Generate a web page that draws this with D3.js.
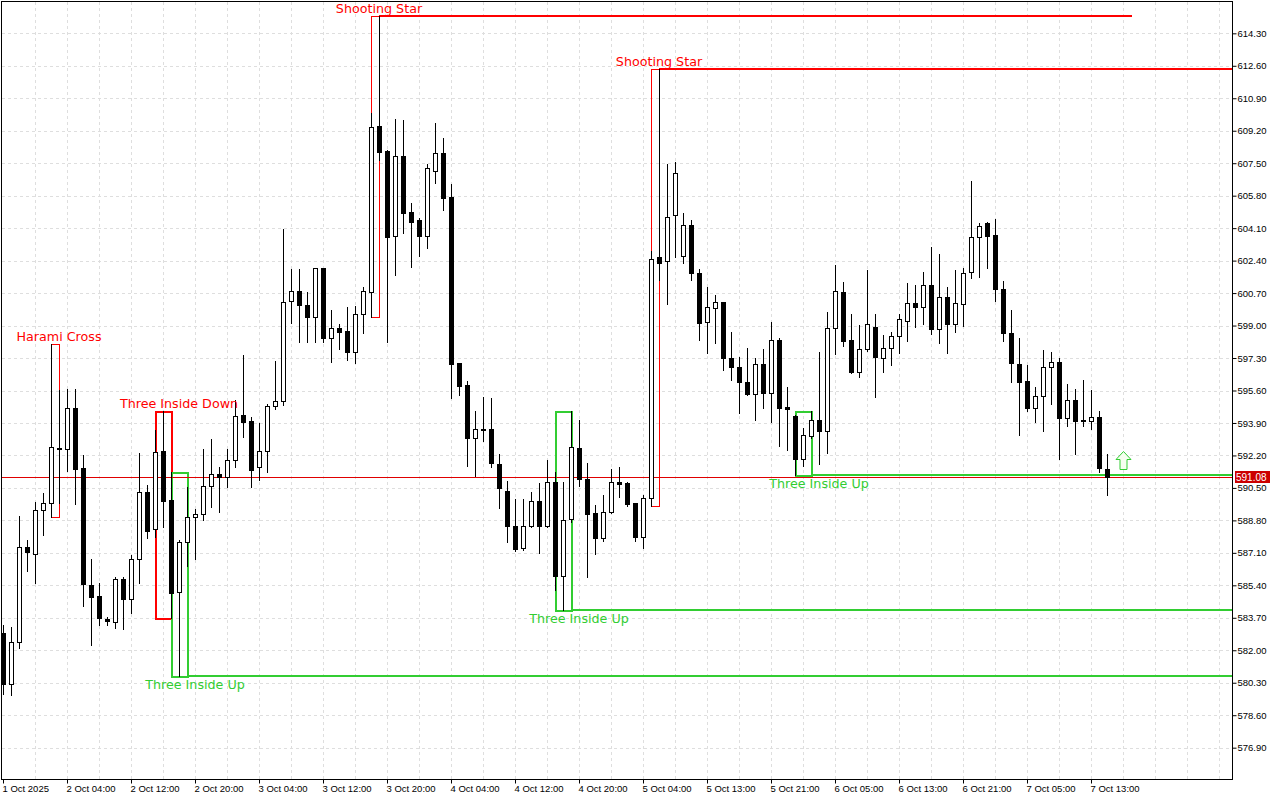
<!DOCTYPE html>
<html>
<head>
<meta charset="utf-8">
<script src="https://cdn.jsdelivr.net/npm/d3@7/dist/d3.min.js"></script>
<style>
  body { margin: 0; background: #fff; }
  svg { display: block; }
  .axis text { font-family: "Liberation Sans", Arial, sans-serif; font-size: 9.5px; fill: #000; }
  .axis line, .axis path { stroke: #000; }
  .pattern-label { font-family: "DejaVu Sans", Verdana, sans-serif; font-size: 12.7px; }
</style>
</head>
<body>
<svg id="chart" width="1280" height="800"></svg>
<script>
// hourly candles
const open = [582.90, 580.23, 582.43, 587.40, 587.03, 589.34, 589.70, 592.58, 592.53, 594.68,
  591.54, 585.41, 584.83, 583.63, 583.47, 585.72, 584.68, 586.77, 590.28, 588.34,
  592.43, 589.86, 585.04, 587.66, 588.97, 589.13, 590.59, 591.22, 591.06, 591.95,
  594.31, 594.00, 591.59, 592.43, 594.78, 595.04, 600.28, 600.80, 600.07, 599.44,
  602.01, 598.34, 598.87, 598.71, 597.61, 599.60, 600.75, 609.44, 608.13, 603.68,
  607.87, 604.94, 604.52, 603.68, 607.09, 608.03, 605.73, 597.03, 595.88, 593.11,
  593.58, 593.58, 591.74, 590.33, 588.50, 587.35, 588.50, 589.81, 588.50, 590.80,
  585.88, 588.87, 592.58, 590.96, 589.18, 587.87, 589.23, 590.80, 590.75, 589.70,
  587.92, 589.96, 602.58, 602.37, 604.78, 602.64, 604.26, 601.75, 599.18, 599.91,
  600.23, 597.30, 596.82, 596.04, 595.41, 596.98, 595.46, 598.24, 594.73, 594.26,
  592.01, 593.21, 594.05, 593.47, 598.87, 600.75, 598.24, 596.56, 597.77, 598.92,
  597.30, 597.82, 598.45, 599.23, 600.17, 599.97, 601.12, 598.81, 600.49, 599.08,
  600.12, 601.80, 603.63, 604.36, 603.74, 600.91, 598.60, 596.98, 596.09, 594.68,
  595.31, 596.82, 597.09, 594.15, 595.10, 594.05, 594.00, 594.21, 591.48];

const high = [583.31, 583.21, 589.02, 587.77, 589.76, 590.23, 598.03, 595.62, 595.67, 595.67,
  592.22, 586.77, 585.51, 583.73, 585.83, 585.83, 586.98, 592.32, 590.65, 593.53,
  594.52, 591.33, 587.77, 590.54, 589.39, 592.53, 593.05, 591.59, 592.53, 595.10,
  597.45, 594.21, 593.89, 594.89, 597.14, 604.05, 601.96, 601.96, 600.75, 602.01,
  602.01, 599.81, 599.08, 599.97, 600.02, 601.01, 610.12, 615.20, 608.20, 609.81,
  609.76, 605.41, 604.63, 607.45, 609.60, 608.81, 606.41, 597.03, 596.09, 594.52,
  595.25, 595.20, 592.27, 590.85, 589.91, 589.91, 590.28, 590.75, 591.95, 591.33,
  590.80, 594.52, 594.05, 591.80, 589.60, 590.12, 591.48, 591.59, 590.80, 589.70,
  590.12, 602.90, 612.43, 607.45, 607.56, 604.89, 604.52, 601.96, 601.01, 600.59,
  600.23, 598.66, 597.35, 597.82, 597.30, 597.77, 599.18, 598.34, 595.78, 594.30,
  593.63, 594.52, 597.61, 599.70, 602.16, 601.27, 599.60, 599.02, 601.90, 599.60,
  598.50, 598.66, 599.60, 601.22, 601.12, 601.80, 603.11, 602.74, 601.01, 601.90,
  602.01, 606.56, 604.36, 604.42, 604.57, 601.33, 599.81, 598.34, 596.93, 595.78,
  597.71, 597.61, 597.30, 595.93, 595.67, 596.14, 595.62, 594.52, 592.27];

const low = [579.70, 579.65, 582.11, 586.14, 585.51, 588.03, 588.97, 589.70, 591.38, 589.65,
  584.31, 582.27, 583.31, 583.31, 583.16, 583.11, 583.94, 585.51, 587.87, 587.92,
  588.45, 583.68, 580.64, 586.40, 586.77, 588.81, 589.49, 589.23, 590.54, 591.59,
  593.16, 590.54, 590.91, 591.33, 594.62, 594.83, 599.13, 598.13, 598.13, 598.13,
  598.13, 597.09, 597.77, 597.19, 597.03, 598.60, 599.44, 607.66, 598.13, 601.64,
  603.84, 602.06, 602.64, 603.05, 606.46, 605.04, 595.20, 595.36, 591.64, 591.12,
  592.95, 591.59, 589.44, 587.66, 587.20, 587.24, 588.45, 587.09, 588.45, 585.15,
  584.10, 588.71, 590.59, 585.83, 587.03, 587.71, 589.18, 590.02, 589.55, 587.71,
  587.35, 589.55, 601.38, 600.12, 602.58, 602.27, 601.38, 598.24, 597.56, 598.08,
  596.67, 596.14, 594.42, 595.36, 594.05, 594.68, 593.94, 592.69, 592.48, 591.17,
  591.64, 593.11, 591.74, 592.32, 597.50, 597.92, 596.51, 596.30, 597.66, 595.25,
  596.56, 596.93, 597.56, 598.19, 598.92, 599.08, 598.55, 598.08, 597.56, 598.66,
  598.97, 601.48, 601.54, 602.01, 600.28, 598.19, 596.04, 593.26, 594.52, 593.94,
  593.47, 594.89, 592.01, 593.73, 592.27, 593.73, 593.58, 591.33, 590.12];

const close = [580.23, 582.43, 587.40, 587.14, 589.34, 589.70, 592.64, 592.53, 594.68, 591.48,
  585.46, 584.78, 583.68, 583.52, 585.72, 584.68, 586.77, 590.28, 588.24, 592.37,
  589.81, 584.99, 587.66, 588.97, 589.13, 590.59, 591.22, 591.06, 591.95, 594.26,
  593.94, 591.43, 592.43, 594.78, 595.04, 600.23, 600.80, 600.07, 599.44, 602.01,
  598.34, 598.87, 598.66, 597.61, 599.60, 600.80, 609.39, 608.08, 603.63, 607.87,
  604.89, 604.42, 603.68, 607.24, 608.03, 605.67, 596.98, 595.83, 593.11, 593.58,
  593.53, 591.80, 590.49, 588.50, 587.29, 588.50, 589.81, 588.50, 590.80, 585.88,
  588.81, 592.64, 590.96, 589.13, 587.87, 589.23, 590.80, 590.70, 589.65, 587.92,
  589.96, 602.48, 602.27, 604.68, 606.98, 604.26, 601.75, 599.13, 599.97, 600.23,
  597.30, 596.82, 596.04, 595.41, 596.98, 595.46, 598.24, 594.68, 594.62, 592.01,
  593.26, 594.05, 593.47, 598.87, 600.80, 598.19, 596.56, 597.77, 599.08, 597.35,
  597.82, 598.45, 599.34, 600.17, 599.97, 601.12, 598.81, 600.49, 599.08, 600.17,
  601.75, 603.63, 604.21, 603.68, 600.91, 598.60, 597.03, 596.04, 594.68, 595.31,
  596.82, 597.09, 594.15, 595.10, 594.00, 594.00, 594.21, 591.54, 591.08];

// time labels, one every 8 bars
const timeLabels = ["1 Oct 2025", "2 Oct 04:00", "2 Oct 12:00", "2 Oct 20:00", "3 Oct 04:00",
  "3 Oct 12:00", "3 Oct 20:00", "4 Oct 04:00", "4 Oct 12:00", "4 Oct 20:00", "5 Oct 04:00",
  "5 Oct 13:00", "5 Oct 21:00", "6 Oct 05:00", "6 Oct 13:00", "6 Oct 21:00", "7 Oct 05:00",
  "7 Oct 13:00"];

const priceTicks = [614.30, 612.60, 610.90, 609.20, 607.50, 605.80, 604.10, 602.40, 600.70,
  599.00, 597.30, 595.60, 593.90, 592.20, 590.50, 588.80, 587.10, 585.40, 583.70, 582.00,
  580.30, 578.60, 576.90];

// candlestick patterns found by the indicator
const patternNames = ["Harami Cross", "Three Inside Down", "Three Inside Up", "Shooting Star",
  "Three Inside Up", "Shooting Star", "Three Inside Up"];
const patternBull = [false, false, true, false, true, false, true];
const patternFrom = [6, 19, 21, 46, 69, 81, 99];
const patternTo = [7, 21, 23, 47, 71, 82, 101];
const patternTop = [598.03, 594.52, 591.33, 615.20, 594.52, 612.43, 594.52];
const patternBottom = [588.97, 583.68, 580.64, 599.44, 584.10, 589.55, 591.17];
const patternLabelAt = [7, 22, 24, 47, 72, 82, 102];

// levels drawn from the patterns (null = to the right edge)
const levelPrice = [615.20, 612.43, 580.64, 584.10, 591.17];
const levelFrom = [47, 82, 23, 71, 101];
const levelTo = [141.1, null, null, null, null];
const levelBull = [false, false, true, true, true];

const lastPrice = 591.08;
const signalAt = 140;
const signalPrice = 592.43;

const RED = "#ff0000";
const GREEN = "#32cd32";

const plotLeft = 2, plotRight = 1232, plotTop = 2, plotBottom = 779;
const svg = d3.select("#chart");

const x = d3.scaleLinear().domain([-0.125, 153.625]).range([plotLeft, plotRight]);
const y = d3.scaleLinear().domain([575.26, 615.94]).range([plotBottom, plotTop]);

svg.append("defs").append("clipPath").attr("id", "plot")
  .append("rect").attr("x", plotLeft).attr("y", plotTop)
  .attr("width", plotRight - plotLeft).attr("height", plotBottom - plotTop);

// grid
const grid = svg.append("g").attr("stroke", "#dedede").attr("stroke-dasharray", "3,3").attr("shape-rendering", "crispEdges");
grid.selectAll("line.h").data(priceTicks).enter().append("line")
  .attr("x1", plotLeft).attr("x2", plotRight)
  .attr("y1", d => Math.round(y(d)) + 0.5).attr("y2", d => Math.round(y(d)) + 0.5);
grid.selectAll("line.v").data(d3.range(4, 154, 4)).enter().append("line")
  .attr("y1", plotTop).attr("y2", plotBottom)
  .attr("x1", d => Math.round(x(d)) + 0.5).attr("x2", d => Math.round(x(d)) + 0.5);

const plot = svg.append("g").attr("clip-path", "url(#plot)").attr("shape-rendering", "crispEdges");

// pattern boxes
plot.selectAll("rect.pattern").data(patternNames).enter().append("rect")
  .attr("fill", "none")
  .attr("stroke", (d, i) => patternBull[i] ? GREEN : RED)
  .attr("stroke-width", (d, i) => patternTo[i] - patternFrom[i] > 1 ? 2 : 1)
  .attr("x", (d, i) => x(patternFrom[i]) + 0.5)
  .attr("width", (d, i) => x(patternTo[i]) - x(patternFrom[i]))
  .attr("y", (d, i) => Math.round(y(patternTop[i])) + 0.5)
  .attr("height", (d, i) => Math.round(y(patternBottom[i])) - Math.round(y(patternTop[i])));

// levels
plot.selectAll("line.level").data(levelPrice).enter().append("line")
  .attr("stroke", (d, i) => levelBull[i] ? GREEN : RED)
  .attr("stroke-width", 2)
  .attr("x1", (d, i) => x(levelFrom[i]))
  .attr("x2", (d, i) => levelTo[i] === null ? plotRight : x(levelTo[i]))
  .attr("y1", d => Math.round(y(d)))
  .attr("y2", d => Math.round(y(d)));

// last price line
plot.append("line")
  .attr("x1", plotLeft).attr("x2", plotRight)
  .attr("y1", Math.round(y(lastPrice)) + 0.5).attr("y2", Math.round(y(lastPrice)) + 0.5)
  .attr("stroke", "#e00000");

// candles
const candles = plot.selectAll("g.candle").data(open).enter().append("g");
candles.append("line")
  .attr("stroke", "#000")
  .attr("x1", (d, i) => Math.round(x(i)) + 0.5).attr("x2", (d, i) => Math.round(x(i)) + 0.5)
  .attr("y1", (d, i) => Math.round(y(high[i]))).attr("y2", (d, i) => Math.round(y(low[i])) + 1);
candles.append("rect")
  .attr("stroke", "#000")
  .attr("fill", (d, i) => close[i] >= d ? "#fff" : "#000")
  .attr("x", (d, i) => Math.round(x(i)) - 1.5)
  .attr("width", 4)
  .attr("y", (d, i) => Math.round(y(Math.max(d, close[i]))) + 0.5)
  .attr("height", (d, i) => Math.max(1, Math.round(y(Math.min(d, close[i]))) - Math.round(y(Math.max(d, close[i])))));

// pattern labels
svg.selectAll("text.pattern-label").data(patternNames).enter().append("text")
  .attr("class", "pattern-label")
  .attr("text-anchor", "middle")
  .attr("fill", (d, i) => patternBull[i] ? GREEN : RED)
  .attr("x", (d, i) => x(patternLabelAt[i]))
  .attr("y", (d, i) => patternBull[i] ? y(patternBottom[i]) + 13 : y(patternTop[i]) - 3)
  .text(d => d);

// buy signal arrow
svg.append("path")
  .attr("transform", `translate(${Math.round(x(signalAt)) + 0.5},${Math.round(y(signalPrice)) + 0.5})`)
  .attr("d", "M0,0 L7.5,8 L3.5,8 L3.5,18 L-3.5,18 L-3.5,8 L-7.5,8 Z")
  .attr("fill", "#f6fff0")
  .attr("stroke", GREEN);

// frame
svg.append("rect")
  .attr("x", plotLeft - 0.5).attr("y", plotTop - 0.5)
  .attr("width", plotRight - plotLeft + 1).attr("height", plotBottom - plotTop + 1)
  .attr("fill", "none").attr("stroke", "#000").attr("shape-rendering", "crispEdges");

// axes
const yAxis = d3.axisRight(y).tickValues(priceTicks).tickSize(4).tickSizeOuter(0).tickFormat(d3.format(".2f"));
svg.append("g").attr("class", "axis")
  .attr("transform", `translate(${plotRight + 0.5},0)`)
  .call(yAxis)
  .call(g => g.select(".domain").remove())
  .call(g => g.selectAll("text").attr("x", 5));

const xAxis = d3.axisBottom(x).tickValues(d3.range(0, timeLabels.length * 8, 8)).tickSize(4).tickSizeOuter(0)
  .tickFormat(d => timeLabels[d / 8]);
svg.append("g").attr("class", "axis")
  .attr("transform", `translate(0,${plotBottom + 0.5})`)
  .call(xAxis)
  .call(g => g.select(".domain").remove())
  .call(g => g.selectAll("text").attr("text-anchor", "start").attr("x", -1).attr("y", 6));

// last price tag
const tagY = Math.round(y(lastPrice));
svg.append("rect")
  .attr("x", plotRight + 3).attr("y", tagY - 6)
  .attr("width", 35).attr("height", 12)
  .attr("fill", "#cc0000");
svg.append("text")
  .attr("x", plotRight + 4).attr("y", tagY + 4)
  .attr("fill", "#fff")
  .style("font-family", "\"Liberation Sans\", Arial, sans-serif")
  .style("font-size", "10px")
  .text(lastPrice.toFixed(2));
</script>
</body>
</html>
